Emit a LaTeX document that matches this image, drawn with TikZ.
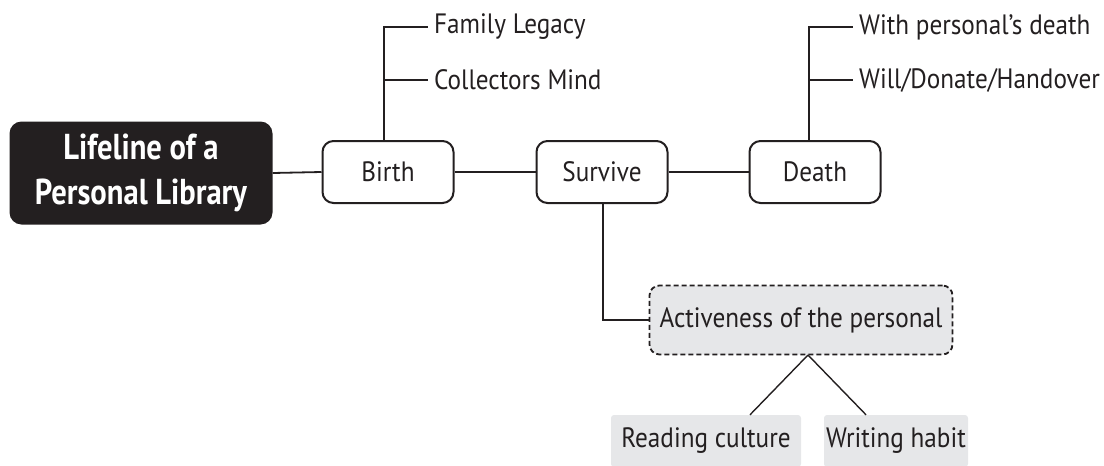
\documentclass[tikz,border=0pt]{standalone}
\usepackage{fontspec}
\setmainfont{PT Sans}
\newfontfamily\narrowfont[FakeStretch=0.9]{PT Sans}
\newfontfamily\titlefont[FakeStretch=0.85]{PT Sans Bold}
\usetikzlibrary{positioning}
\definecolor{ink}{HTML}{231F20}
\definecolor{boxgray}{HTML}{E6E7E9}
\tikzset{
  txt/.style={font=\narrowfont\fontsize{28}{30}\selectfont},
  stagebox/.style={txt, draw=ink, line width=2pt, rounded corners=11pt, fill=white,
    minimum width=131pt, minimum height=62pt, inner sep=0pt, text=ink},
  titlebox/.style={fill=ink, rounded corners=12pt, minimum width=263pt, minimum height=103pt,
    text=white, align=center, font=\titlefont\fontsize{36}{45}\selectfont, inner sep=0pt},
  leaf/.style={txt, anchor=west, inner sep=0pt, text=ink},
  dashbox/.style={txt, draw=ink, dashed, dash pattern=on 5pt off 3pt, line width=1.8pt, rounded corners=10pt,
    fill=boxgray, minimum width=303pt, minimum height=69pt, inner sep=0pt, text=ink},
  graybox/.style={txt, fill=boxgray, rounded corners=3pt, minimum height=52pt, inner sep=0pt, text=ink},
  link/.style={draw=ink, line width=1.8pt},
}
\begin{document}
\begin{tikzpicture}[x=1pt,y=-1pt]
\useasboundingbox (0,0) rectangle (1104,466);
\node[titlebox] (title) at (141,173) {Lifeline of a\\Personal Library};
\node[stagebox] (birth) at (388,172) {Birth};
\node[stagebox] (survive) at (602,172) {Survive};
\node[stagebox] (death) at (815,172) {Death};
\node[dashbox] (active) at (801,320) {Activeness of the personal};
\node[graybox, minimum width=190pt] (reading) at (706,441) {Reading culture};
\node[graybox, minimum width=144pt] (writing) at (896,441) {Writing habit};
\node[leaf] (fam) at (434,27) {Family Legacy};
\node[leaf] (col) at (434,80) {Collectors Mind};
\node[leaf] (with) at (859,27) {With personal’s death};
\node[leaf] (will) at (859,80) {Will/Donate/Handover};
\coordinate (bj) at (384,27);
\coordinate (dj) at (809,27);
\coordinate (sj) at (603,320);
\coordinate (ap) at (808,355);
\draw[link] (title.east) -- (birth.west);
\draw[link] (birth.east) -- (survive.west);
\draw[link] (survive.east) -- (death.west);
\draw[link] (birth.north -| bj) -- (bj) -- ([xshift=-6pt]fam.west);
\draw[link] (col.west -| bj) -- ([xshift=-6pt]col.west);
\draw[link] (death.north -| dj) -- (dj) -- ([xshift=-6pt]with.west);
\draw[link] (will.west -| dj) -- ([xshift=-6pt]will.west);
\draw[link] (survive.south -| sj) -- (sj) -- (active.west);
\draw[link, line width=1.4pt] (ap) -- (reading.north -| 750,0);
\draw[link, line width=1.4pt] (ap) -- (writing.north -| 866,0);
\end{tikzpicture}
\end{document}
